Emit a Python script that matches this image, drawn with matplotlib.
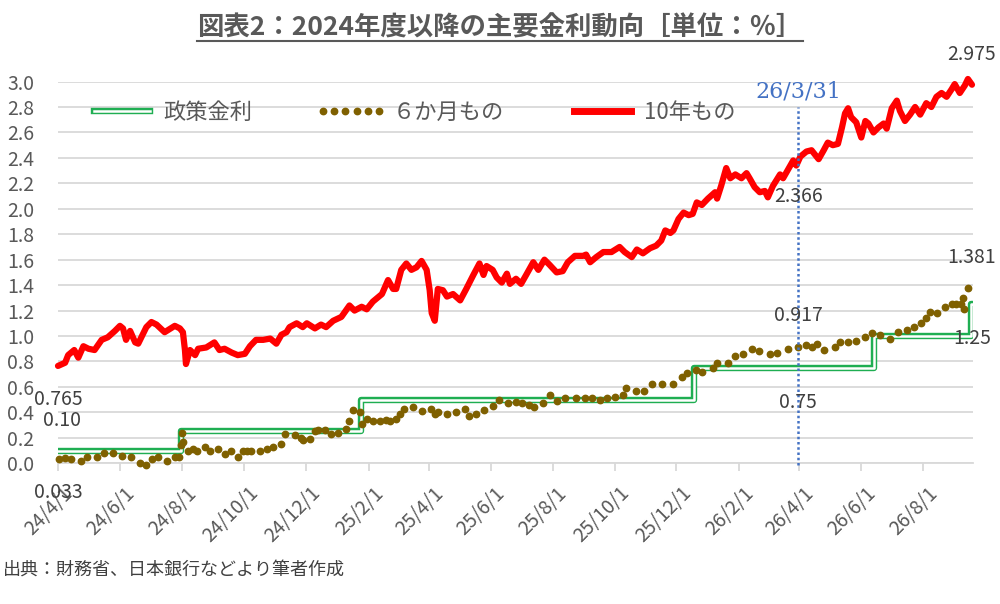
import matplotlib
matplotlib.use("Agg")
import matplotlib.pyplot as plt
import matplotlib.dates as mdates
import matplotlib.transforms as mtransforms
from matplotlib.lines import Line2D
from matplotlib.legend_handler import HandlerTuple
import pandas as pd

plt.rcParams['font.family'] = ['Noto Sans CJK JP', 'DejaVu Sans']

# 政策金利 (変更日と水準)
policy_dates = ["2024-04-01", "2024-07-31", "2025-01-24", "2025-12-18",
                "2026-06-14", "2026-09-17", "2026-09-18"]
policy_vals = [0.10, 0.25, 0.50, 0.75, 1.00, 1.25, 1.25]

# 10年もの
jgb10_dates = [
    "2024-04-01", "2024-04-08", "2024-04-11", "2024-04-17", "2024-04-21", "2024-04-26",
    "2024-05-01", "2024-05-07", "2024-05-14", "2024-05-20", "2024-05-27", "2024-06-01",
    "2024-06-04", "2024-06-07", "2024-06-11", "2024-06-16", "2024-06-19", "2024-06-27",
    "2024-07-02", "2024-07-07", "2024-07-15", "2024-07-25", "2024-07-30", "2024-08-02",
    "2024-08-04", "2024-08-05", "2024-08-09", "2024-08-14", "2024-08-17", "2024-08-25",
    "2024-09-02", "2024-09-07", "2024-09-12", "2024-09-19", "2024-09-25", "2024-10-02",
    "2024-10-07", "2024-10-13", "2024-10-20", "2024-10-27", "2024-11-02", "2024-11-07",
    "2024-11-12", "2024-11-15", "2024-11-22", "2024-11-28", "2024-12-02", "2024-12-10",
    "2024-12-16", "2024-12-21", "2024-12-28", "2025-01-05", "2025-01-13", "2025-01-18",
    "2025-01-25", "2025-01-30", "2025-02-05", "2025-02-14", "2025-02-20", "2025-02-25",
    "2025-02-28", "2025-03-05", "2025-03-10", "2025-03-15", "2025-03-20", "2025-03-25",
    "2025-03-30", "2025-04-02", "2025-04-04", "2025-04-07", "2025-04-10", "2025-04-15",
    "2025-04-19", "2025-04-25", "2025-05-02", "2025-05-08", "2025-05-15", "2025-05-21",
    "2025-05-25", "2025-05-28", "2025-06-03", "2025-06-07", "2025-06-12", "2025-06-17",
    "2025-06-20", "2025-06-26", "2025-07-01", "2025-07-06", "2025-07-13", "2025-07-18",
    "2025-07-24", "2025-07-29", "2025-08-05", "2025-08-11", "2025-08-16", "2025-08-23",
    "2025-08-31", "2025-09-03", "2025-09-07", "2025-09-13", "2025-09-20", "2025-09-28",
    "2025-10-06", "2025-10-11", "2025-10-18", "2025-10-23", "2025-10-29", "2025-11-05",
    "2025-11-11", "2025-11-16", "2025-11-20", "2025-11-25", "2025-11-28", "2025-12-03",
    "2025-12-08", "2025-12-13", "2025-12-17", "2025-12-21", "2025-12-26", "2026-01-01",
    "2026-01-08", "2026-01-10", "2026-01-14", "2026-01-19", "2026-01-23", "2026-01-28",
    "2026-02-03", "2026-02-08", "2026-02-11", "2026-02-16", "2026-02-21", "2026-02-26",
    "2026-03-01", "2026-03-06", "2026-03-13", "2026-03-16", "2026-03-21", "2026-03-26",
    "2026-03-29", "2026-04-02", "2026-04-08", "2026-04-13", "2026-04-20", "2026-04-25",
    "2026-04-29", "2026-05-04", "2026-05-09", "2026-05-13", "2026-05-16", "2026-05-19",
    "2026-05-22", "2026-05-27", "2026-06-01", "2026-06-05", "2026-06-08", "2026-06-13",
    "2026-06-18", "2026-06-23", "2026-06-26", "2026-07-01", "2026-07-06", "2026-07-09",
    "2026-07-14", "2026-07-19", "2026-07-24", "2026-07-29", "2026-08-04", "2026-08-09",
    "2026-08-14", "2026-08-19", "2026-08-24", "2026-08-29", "2026-09-01", "2026-09-06",
    "2026-09-11", "2026-09-14", "2026-09-18",
]
jgb10_vals = [
    0.765, 0.79, 0.85, 0.89, 0.83, 0.92,
    0.90, 0.89, 0.97, 0.99, 1.04, 1.08,
    1.06, 0.97, 1.04, 0.95, 0.94, 1.07,
    1.11, 1.09, 1.03, 1.08, 1.06, 1.03,
    0.89, 0.78, 0.89, 0.85, 0.90, 0.91,
    0.95, 0.89, 0.90, 0.87, 0.85, 0.86,
    0.92, 0.97, 0.97, 0.98, 0.94, 1.01,
    1.03, 1.07, 1.10, 1.07, 1.10, 1.06,
    1.09, 1.07, 1.12, 1.15, 1.24, 1.20,
    1.23, 1.21, 1.27, 1.33, 1.44, 1.37,
    1.37, 1.52, 1.57, 1.52, 1.54, 1.59,
    1.52, 1.36, 1.18, 1.12, 1.37, 1.36,
    1.31, 1.33, 1.28, 1.37, 1.48, 1.57,
    1.48, 1.55, 1.52, 1.46, 1.42, 1.49,
    1.41, 1.45, 1.41, 1.48, 1.58, 1.52,
    1.60, 1.56, 1.50, 1.51, 1.58, 1.63,
    1.63, 1.64, 1.58, 1.62, 1.66, 1.66,
    1.70, 1.66, 1.62, 1.68, 1.65, 1.69,
    1.71, 1.75, 1.83, 1.81, 1.83, 1.92,
    1.97, 1.95, 1.96, 2.05, 2.03, 2.08,
    2.13, 2.08, 2.18, 2.32, 2.24, 2.27,
    2.24, 2.28, 2.24, 2.17, 2.13, 2.14,
    2.09, 2.18, 2.27, 2.24, 2.31, 2.38,
    2.34, 2.41, 2.45, 2.46, 2.39, 2.46,
    2.52, 2.50, 2.51, 2.64, 2.75, 2.79,
    2.72, 2.68, 2.56, 2.69, 2.67, 2.60,
    2.64, 2.67, 2.63, 2.79, 2.85, 2.77,
    2.69, 2.74, 2.80, 2.74, 2.83, 2.80,
    2.88, 2.91, 2.88, 2.94, 2.98, 2.91,
    2.97, 3.02, 2.975,
]

# 6か月もの
bill6m_dates = [
    "2024-04-02", "2024-04-08", "2024-04-14", "2024-04-24", "2024-04-30", "2024-05-09",
    "2024-05-16", "2024-05-25", "2024-06-03", "2024-06-12", "2024-06-21", "2024-06-27",
    "2024-07-03", "2024-07-08", "2024-07-17", "2024-07-25", "2024-07-29", "2024-07-31",
    "2024-08-01", "2024-08-02", "2024-08-07", "2024-08-12", "2024-08-16", "2024-08-24",
    "2024-08-29", "2024-09-06", "2024-09-12", "2024-09-18", "2024-09-25", "2024-09-30",
    "2024-10-04", "2024-10-08", "2024-10-17", "2024-10-24", "2024-10-30", "2024-11-07",
    "2024-11-11", "2024-11-20", "2024-11-26", "2024-11-28", "2024-12-05", "2024-12-10",
    "2024-12-13", "2024-12-20", "2024-12-26", "2025-01-02", "2025-01-10", "2025-01-13",
    "2025-01-16", "2025-01-23", "2025-01-25", "2025-01-30", "2025-02-05", "2025-02-12",
    "2025-02-18", "2025-02-22", "2025-02-28", "2025-03-04", "2025-03-08", "2025-03-17",
    "2025-03-25", "2025-04-03", "2025-04-07", "2025-04-10", "2025-04-19", "2025-04-28",
    "2025-05-07", "2025-05-11", "2025-05-18", "2025-05-25", "2025-06-03", "2025-06-09",
    "2025-06-18", "2025-06-26", "2025-07-02", "2025-07-09", "2025-07-14", "2025-07-23",
    "2025-07-29", "2025-08-05", "2025-08-13", "2025-08-24", "2025-09-02", "2025-09-09",
    "2025-09-17", "2025-09-24", "2025-10-01", "2025-10-09", "2025-10-12", "2025-10-22",
    "2025-10-30", "2025-11-07", "2025-11-17", "2025-11-28", "2025-12-06", "2025-12-11",
    "2025-12-20", "2025-12-26", "2026-01-06", "2026-01-10", "2026-01-21", "2026-01-28",
    "2026-02-05", "2026-02-13", "2026-02-20", "2026-03-03", "2026-03-10", "2026-03-21",
    "2026-03-31", "2026-04-08", "2026-04-13", "2026-04-18", "2026-04-25", "2026-05-06",
    "2026-05-11", "2026-05-19", "2026-05-27", "2026-06-05", "2026-06-12", "2026-06-19",
    "2026-06-29", "2026-07-07", "2026-07-16", "2026-07-23", "2026-07-30", "2026-08-04",
    "2026-08-08", "2026-08-15", "2026-08-22", "2026-08-29", "2026-09-02", "2026-09-07",
    "2026-09-09", "2026-09-10", "2026-09-14",
]
bill6m_vals = [
    0.033, 0.04, 0.03, 0.02, 0.05, 0.05,
    0.08, 0.08, 0.06, 0.05, 0.00, -0.01,
    0.03, 0.05, 0.02, 0.05, 0.05, 0.14,
    0.24, 0.17, 0.10, 0.11, 0.10, 0.13,
    0.10, 0.11, 0.07, 0.10, 0.05, 0.10,
    0.10, 0.10, 0.10, 0.11, 0.13, 0.15,
    0.23, 0.22, 0.20, 0.18, 0.19, 0.25,
    0.26, 0.26, 0.23, 0.24, 0.27, 0.33,
    0.42, 0.40, 0.31, 0.35, 0.33, 0.33,
    0.34, 0.33, 0.35, 0.39, 0.43, 0.44,
    0.41, 0.43, 0.39, 0.40, 0.39, 0.40,
    0.43, 0.37, 0.39, 0.42, 0.45, 0.50,
    0.47, 0.48, 0.47, 0.46, 0.44, 0.47,
    0.54, 0.49, 0.51, 0.51, 0.51, 0.51,
    0.50, 0.51, 0.52, 0.54, 0.59, 0.57,
    0.57, 0.62, 0.62, 0.62, 0.68, 0.71,
    0.73, 0.72, 0.75, 0.79, 0.79, 0.84,
    0.86, 0.90, 0.88, 0.86, 0.87, 0.90,
    0.917, 0.93, 0.91, 0.94, 0.89, 0.91,
    0.95, 0.95, 0.96, 0.99, 1.02, 1.01,
    0.98, 1.03, 1.05, 1.07, 1.10, 1.14,
    1.19, 1.18, 1.23, 1.25, 1.25, 1.25,
    1.30, 1.21, 1.381,
]

policy_d = pd.to_datetime(policy_dates)
jgb10_d = pd.to_datetime(jgb10_dates)
bill6m_d = pd.to_datetime(bill6m_dates)
marker_date = pd.Timestamp("2026-03-31")

GREEN = "#1fae52"

fig = plt.figure(figsize=(10, 6.04), dpi=100)
ax = fig.add_axes([0.058, 0.233, 0.915, 0.632])

# 政策金利: 二重線 (緑の太線の上に白の細線)
ax.step(policy_d, policy_vals, where="post", color=GREEN, lw=4.6, zorder=3)
ax.step(policy_d, policy_vals, where="post", color="white", lw=1.8, zorder=3.1)
ax.plot(bill6m_d, bill6m_vals, ls="none", marker="o", ms=4.6, color="#7f6000",
        zorder=4, clip_on=False)
ax.plot(jgb10_d, jgb10_vals, color="#ff0000", lw=4.5, solid_joinstyle="round",
        solid_capstyle="round", zorder=5, clip_on=False)

ax.set_xlim(pd.Timestamp("2024-04-01"), pd.Timestamp("2026-09-19"))
ax.set_ylim(0, 3.0)
ax.set_yticks([i / 10 for i in range(0, 31, 2)])
ax.yaxis.set_major_formatter(plt.FuncFormatter(lambda v, p: f"{v:.1f}"))

ax.xaxis.set_major_locator(mdates.MonthLocator(bymonth=(2, 4, 6, 8, 10, 12), bymonthday=1))
def fmt_date(x, pos):
    d = mdates.num2date(x)
    return f"{d.year % 100}/{d.month}/{d.day}"
ax.xaxis.set_major_formatter(plt.FuncFormatter(fmt_date))

ax.yaxis.grid(True, color="#d9d9d9", lw=1.3)
ax.set_axisbelow(True)
for s in ["top", "right", "left"]:
    ax.spines[s].set_visible(False)
ax.spines["bottom"].set_color("#d9d9d9")
ax.spines["bottom"].set_linewidth(1.3)
ax.tick_params(axis="y", length=0, labelsize=14, labelcolor="#595959", pad=17)
ax.tick_params(axis="x", length=6, width=1.3, color="#d9d9d9", labelsize=14,
               labelcolor="#595959", pad=8)
offset = mtransforms.ScaledTranslation(0.04, 0, fig.dpi_scale_trans)
for lab in ax.get_xticklabels():
    lab.set_rotation(45)
    lab.set_ha("right")
    lab.set_va("top")
    lab.set_rotation_mode("anchor")
    lab.set_transform(lab.get_transform() + offset)

# 26/3/31 の縦線
ax.axvline(marker_date, ymin=-0.005, ymax=0.933, color="#4472c4", lw=1.8,
           ls=(0, (1, 1.1)), zorder=6, clip_on=False)
ax.text(marker_date, 2.92, "26/3/31", family="DejaVu Serif", fontsize=16,
        color="#4472c4", ha="center", va="center")

# データラベル
lab_kw = dict(fontsize=14, color="#404040", ha="center", va="center", zorder=7,
              clip_on=False)
d0 = jgb10_d[0]
dend = jgb10_d[-1]
ax.text(d0, 0.50, f"{jgb10_vals[0]:.3f}", **lab_kw)
ax.text(d0 + pd.Timedelta(days=4), 0.34, f"{policy_vals[0]:.2f}", **lab_kw)
ax.text(d0, -0.227, f"{bill6m_vals[0]:.3f}", **lab_kw)
ax.text(marker_date, 2.10, "2.366", **lab_kw)
ax.text(marker_date, 1.165, "0.917", **lab_kw)
ax.text(marker_date, 0.474, "0.75", **lab_kw)
ax.text(dend, 3.215, f"{jgb10_vals[-1]:.3f}", **lab_kw)
ax.text(dend, 1.62, f"{bill6m_vals[-1]:.3f}", **lab_kw)
ax.text(dend, 0.983, f"{policy_vals[-1]:.2f}", **lab_kw)

# 凡例
h_policy = (Line2D([], [], color=GREEN, lw=4.6), Line2D([], [], color="white", lw=1.8))
h_6m = Line2D([], [], ls="none", marker="o", ms=4.6, color="#7f6000")
h_10y = Line2D([], [], color="#ff0000", lw=5)
leg = ax.legend([h_policy, h_6m, h_10y], ["政策金利", "６か月もの", "10年もの"],
                handler_map={tuple: HandlerTuple(ndivide=1, pad=0)},
                loc="center left", bbox_to_anchor=(0.0317, 0.92), ncol=3,
                frameon=False, fontsize=16, numpoints=6, handlelength=3.15,
                handletextpad=0.3, columnspacing=2.85, borderpad=0, borderaxespad=0)
for t in leg.get_texts():
    t.set_color("#595959")

# タイトル (下線付き)
title = fig.text(0.5, 1 - 28 / 604, "図表2：2024年度以降の主要金利動向［単位：％］",
                 fontsize=19, fontweight="bold", color="#595959", ha="center", va="center")
fig.text(0.003, 1 - 570 / 604, "出典：財務省、日本銀行などより筆者作成",
         fontsize=13, color="#404040", ha="left", va="center")

fig.canvas.draw()
bb = title.get_window_extent().transformed(fig.transFigure.inverted())
fig.add_artist(Line2D([bb.x0, bb.x1], [1 - 41 / 604] * 2, color="#595959", lw=1.5,
                      transform=fig.transFigure))

fig.savefig("out.png", dpi=100)
